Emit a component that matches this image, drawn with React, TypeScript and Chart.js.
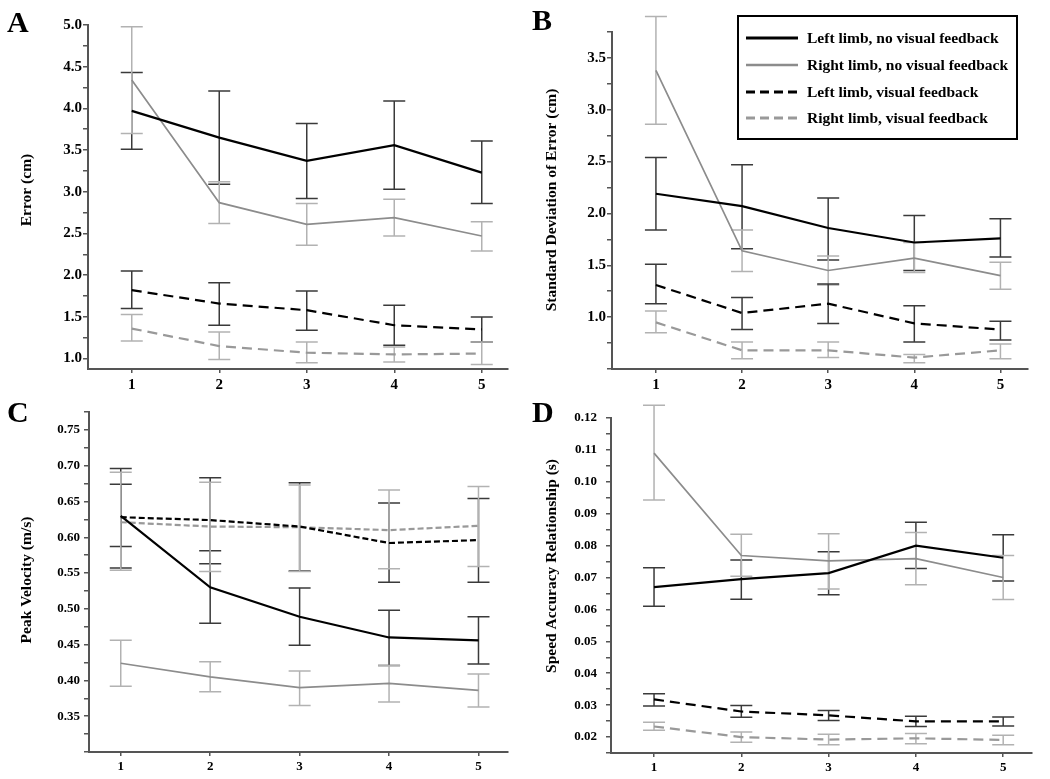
import React, { useEffect, useRef } from "react";
import { Chart, registerables } from "chart.js";

Chart.register(...registerables);

// ---------- data ----------
const sessions = [1, 2, 3, 4, 5];
const seriesNames = [
  "Left limb, no visual feedback",
  "Right limb, no visual feedback",
  "Left limb, visual feedback",
  "Right limb, visual feedback",
];

// A: Error (cm)
const errLeftNoVF = [3.97, 3.65, 3.37, 3.56, 3.23];
const errLeftNoVFLow = [3.51, 3.09, 2.92, 3.03, 2.86];
const errLeftNoVFHigh = [4.43, 4.21, 3.82, 4.09, 3.61];
const errRightNoVF = [4.34, 2.87, 2.61, 2.69, 2.47];
const errRightNoVFLow = [3.7, 2.62, 2.36, 2.47, 2.29];
const errRightNoVFHigh = [4.98, 3.12, 2.86, 2.91, 2.64];
const errLeftVF = [1.82, 1.66, 1.58, 1.4, 1.35];
const errLeftVFLow = [1.6, 1.4, 1.34, 1.16, 1.2];
const errLeftVFHigh = [2.05, 1.91, 1.81, 1.64, 1.5];
const errRightVF = [1.36, 1.15, 1.07, 1.05, 1.06];
const errRightVFLow = [1.21, 0.99, 0.95, 0.96, 0.93];
const errRightVFHigh = [1.53, 1.32, 1.2, 1.14, 1.2];

// B: Standard Deviation of Error (cm)
const sdLeftNoVF = [2.19, 2.07, 1.86, 1.72, 1.76];
const sdLeftNoVFLow = [1.84, 1.66, 1.55, 1.45, 1.58];
const sdLeftNoVFHigh = [2.54, 2.47, 2.15, 1.98, 1.95];
const sdRightNoVF = [3.38, 1.64, 1.45, 1.57, 1.4];
const sdRightNoVFLow = [2.86, 1.44, 1.31, 1.43, 1.27];
const sdRightNoVFHigh = [3.9, 1.84, 1.59, 1.72, 1.53];
const sdLeftVF = [1.31, 1.04, 1.13, 0.94, 0.88];
const sdLeftVFLow = [1.13, 0.88, 0.94, 0.76, 0.78];
const sdLeftVFHigh = [1.51, 1.19, 1.32, 1.11, 0.96];
const sdRightVF = [0.95, 0.68, 0.68, 0.61, 0.68];
const sdRightVFLow = [0.85, 0.6, 0.61, 0.56, 0.6];
const sdRightVFHigh = [1.06, 0.76, 0.76, 0.64, 0.74];

// C: Peak Velocity (m/s)
const pvLeftNoVF = [0.63, 0.53, 0.489, 0.46, 0.456];
const pvLeftNoVFLow = [0.587, 0.48, 0.449, 0.421, 0.423];
const pvLeftNoVFHigh = [0.674, 0.581, 0.529, 0.498, 0.489];
const pvRightNoVF = [0.424, 0.405, 0.39, 0.396, 0.386];
const pvRightNoVFLow = [0.392, 0.384, 0.365, 0.37, 0.363];
const pvRightNoVFHigh = [0.456, 0.426, 0.413, 0.421, 0.409];
const pvLeftVF = [0.628, 0.624, 0.615, 0.592, 0.596];
const pvLeftVFLow = [0.557, 0.563, 0.553, 0.537, 0.537];
const pvLeftVFHigh = [0.696, 0.683, 0.676, 0.648, 0.654];
const pvRightVF = [0.621, 0.615, 0.614, 0.61, 0.616];
const pvRightVFLow = [0.554, 0.552, 0.552, 0.556, 0.559];
const pvRightVFHigh = [0.691, 0.677, 0.673, 0.666, 0.671];

// D: Speed Accuracy Relationship (s)
const saLeftNoVF = [0.067, 0.0695, 0.0714, 0.08, 0.0762];
const saLeftNoVFLow = [0.061, 0.0632, 0.0646, 0.0728, 0.0689];
const saLeftNoVFHigh = [0.0731, 0.0755, 0.0781, 0.0873, 0.0834];
const saRightNoVF = [0.109, 0.0769, 0.0752, 0.0759, 0.07];
const saRightNoVFLow = [0.0943, 0.0704, 0.0664, 0.0677, 0.0631];
const saRightNoVFHigh = [0.124, 0.0836, 0.0837, 0.0841, 0.0769];
const saLeftVF = [0.0318, 0.028, 0.0268, 0.0249, 0.0249];
const saLeftVFLow = [0.0297, 0.0262, 0.0252, 0.0233, 0.0235];
const saLeftVFHigh = [0.0336, 0.0299, 0.0283, 0.0265, 0.0263];
const saRightVF = [0.0233, 0.02, 0.0192, 0.0196, 0.0191];
const saRightVFLow = [0.0221, 0.0184, 0.0176, 0.0179, 0.0176];
const saRightVFHigh = [0.0246, 0.0216, 0.0209, 0.0211, 0.0206];

// ---------- styles ----------
const FONT = '"Liberation Serif", "Times New Roman", serif';
const seriesStyles = [
  { color: "#000000", err: "#3a3a3a", width: 2.2, dashed: false },
  { color: "#8c8c8c", err: "#b2b2b2", width: 1.7, dashed: false },
  { color: "#000000", err: "#3a3a3a", width: 2.2, dashed: true },
  { color: "#999999", err: "#b2b2b2", width: 2.2, dashed: true },
];

type Panel = {
  letter: string;
  box: { x: number; y: number; w: number; h: number };
  plot: { l: number; t: number; r: number; b: number };
  xMin: number;
  xMax: number;
  yMin: number;
  yMax: number;
  yStep: number;
  yMajor: number;
  yLabelMin: number;
  decimals: number;
  tickSize: number;
  yTickPad: number;
  title: string;
  titleX: number;
  titleY: number;
  titleSize: number;
  dash: number[];
  letterX: number;
  letterY: number;
  legend: boolean;
  series: { mean: number[]; low: number[]; high: number[] }[];
};

const panels: Panel[] = [
  {
    letter: "A",
    box: { x: 0, y: 0, w: 525, h: 392 },
    plot: { l: 88, t: 25, r: 508, b: 369 },
    xMin: 0.5, xMax: 5.3,
    yMin: 0.875, yMax: 5.0, yStep: 0.25, yMajor: 0.5, yLabelMin: 1.0, decimals: 1,
    tickSize: 15, yTickPad: 1,
    title: "Error (cm)", titleX: 27, titleY: 190, titleSize: 15.5,
    dash: [10, 6],
    letterX: 7, letterY: 32, legend: false,
    series: [
      { mean: errLeftNoVF, low: errLeftNoVFLow, high: errLeftNoVFHigh },
      { mean: errRightNoVF, low: errRightNoVFLow, high: errRightNoVFHigh },
      { mean: errLeftVF, low: errLeftVFLow, high: errLeftVFHigh },
      { mean: errRightVF, low: errRightVFLow, high: errRightVFHigh },
    ],
  },
  {
    letter: "B",
    box: { x: 525, y: 0, w: 525, h: 392 },
    plot: { l: 612, t: 32, r: 1028, b: 369 },
    xMin: 0.49, xMax: 5.32,
    yMin: 0.5, yMax: 3.75, yStep: 0.25, yMajor: 0.5, yLabelMin: 1.0, decimals: 1,
    tickSize: 15, yTickPad: 1,
    title: "Standard Deviation of Error (cm)", titleX: 552, titleY: 200, titleSize: 15.5,
    dash: [10, 6],
    letterX: 532, letterY: 30, legend: true,
    series: [
      { mean: sdLeftNoVF, low: sdLeftNoVFLow, high: sdLeftNoVFHigh },
      { mean: sdRightNoVF, low: sdRightNoVFLow, high: sdRightNoVFHigh },
      { mean: sdLeftVF, low: sdLeftVFLow, high: sdLeftVFHigh },
      { mean: sdRightVF, low: sdRightVFLow, high: sdRightVFHigh },
    ],
  },
  {
    letter: "C",
    box: { x: 0, y: 392, w: 525, h: 387 },
    plot: { l: 89, t: 412, r: 508, b: 752 },
    xMin: 0.645, xMax: 5.33,
    yMin: 0.3, yMax: 0.775, yStep: 0.025, yMajor: 0.05, yLabelMin: 0.35, decimals: 2,
    tickSize: 13, yTickPad: 4,
    title: "Peak Velocity (m/s)", titleX: 27, titleY: 580, titleSize: 15.5,
    dash: [6, 3],
    letterX: 7, letterY: 422, legend: false,
    series: [
      { mean: pvLeftNoVF, low: pvLeftNoVFLow, high: pvLeftNoVFHigh },
      { mean: pvRightNoVF, low: pvRightNoVFLow, high: pvRightNoVFHigh },
      { mean: pvLeftVF, low: pvLeftVFLow, high: pvLeftVFHigh },
      { mean: pvRightVF, low: pvRightVFLow, high: pvRightVFHigh },
    ],
  },
  {
    letter: "D",
    box: { x: 525, y: 392, w: 525, h: 387 },
    plot: { l: 611, t: 418, r: 1032, b: 753 },
    xMin: 0.507, xMax: 5.33,
    yMin: 0.015, yMax: 0.12, yStep: 0.005, yMajor: 0.01, yLabelMin: 0.02, decimals: 2,
    tickSize: 13, yTickPad: 9,
    title: "Speed Accuracy Relationship (s)", titleX: 552, titleY: 566, titleSize: 15.5,
    dash: [10, 6],
    letterX: 532, letterY: 422, legend: false,
    series: [
      { mean: saLeftNoVF, low: saLeftNoVFLow, high: saLeftNoVFHigh },
      { mean: saRightNoVF, low: saRightNoVFLow, high: saRightNoVFHigh },
      { mean: saLeftVF, low: saLeftVFLow, high: saLeftVFHigh },
      { mean: saRightVF, low: saRightVFLow, high: saRightVFHigh },
    ],
  },
];

// ---------- plugins ----------
const errorBarPlugin = {
  id: "errorBars",
  beforeDatasetsDraw(chart: any) {
    const { ctx } = chart;
    const xs = chart.scales.x;
    const ys = chart.scales.y;
    chart.data.datasets.forEach((ds: any) => {
      ctx.save();
      ctx.strokeStyle = ds.errColor;
      ctx.lineWidth = 1.5;
      ctx.setLineDash([]);
      ds.data.forEach((p: any, i: number) => {
        const x = xs.getPixelForValue(p.x);
        const y1 = ys.getPixelForValue(ds.errLow[i]);
        const y2 = ys.getPixelForValue(ds.errHigh[i]);
        ctx.beginPath();
        ctx.moveTo(x, y1);
        ctx.lineTo(x, y2);
        ctx.moveTo(x - 11, y1);
        ctx.lineTo(x + 11, y1);
        ctx.moveTo(x - 11, y2);
        ctx.lineTo(x + 11, y2);
        ctx.stroke();
      });
      ctx.restore();
    });
  },
};

const decorPlugin = {
  id: "decor",
  afterDraw(chart: any, _args: any, opts: any) {
    const p: Panel = opts.panel;
    if (!p) return;
    const { ctx } = chart;
    ctx.save();
    ctx.translate(-p.box.x, -p.box.y);
    // panel letter
    ctx.fillStyle = "#000";
    ctx.font = `bold 30px ${FONT}`;
    ctx.textAlign = "left";
    ctx.textBaseline = "alphabetic";
    ctx.fillText(p.letter, p.letterX, p.letterY);
    // y-axis title
    ctx.save();
    ctx.translate(p.titleX, p.titleY);
    ctx.rotate(-Math.PI / 2);
    ctx.font = `bold ${p.titleSize}px ${FONT}`;
    ctx.textAlign = "center";
    ctx.textBaseline = "middle";
    ctx.fillText(p.title, 0, 0);
    ctx.restore();
    // legend
    if (p.legend) {
      const bx = 738, by = 16, bw = 279, bh = 123;
      ctx.lineWidth = 2;
      ctx.strokeStyle = "#000";
      ctx.setLineDash([]);
      ctx.strokeRect(bx, by, bw, bh);
      const rows = [38, 65, 92, 118];
      seriesNames.forEach((name, i) => {
        const st = seriesStyles[i];
        ctx.beginPath();
        ctx.strokeStyle = st.color;
        ctx.lineWidth = i === 1 ? 2.5 : 3;
        ctx.setLineDash(st.dashed ? [9, 5] : []);
        ctx.moveTo(746, rows[i]);
        ctx.lineTo(798, rows[i]);
        ctx.stroke();
        ctx.setLineDash([]);
        ctx.fillStyle = "#000";
        ctx.font = `bold 15.5px ${FONT}`;
        ctx.textAlign = "left";
        ctx.textBaseline = "middle";
        ctx.fillText(name, 807, rows[i] + 1);
      });
    }
    ctx.restore();
  },
};

function buildYTicks(p: Panel) {
  const out: { value: number }[] = [];
  const k0 = Math.ceil(p.yMin / p.yStep - 1e-6);
  const k1 = Math.floor(p.yMax / p.yStep + 1e-6);
  for (let k = k0; k <= k1; k++) {
    out.push({ value: Math.round(k * p.yStep * 1e6) / 1e6 });
  }
  return out;
}

function makeConfig(p: Panel): any {
  const tickFont = { family: FONT, weight: "bold" as const, size: p.tickSize };
  return {
    type: "line",
    data: {
      datasets: p.series.map((s, i) => {
        const st = seriesStyles[i];
        return {
          label: seriesNames[i],
          data: sessions.map((x, j) => ({ x, y: s.mean[j] })),
          borderColor: st.color,
          borderWidth: st.width,
          borderDash: st.dashed ? p.dash : [],
          pointRadius: 0,
          fill: false,
          tension: 0,
          errLow: s.low,
          errHigh: s.high,
          errColor: st.err,
        };
      }),
    },
    options: {
      responsive: false,
      animation: false,
      events: [],
      layout: {
        padding: {
          left: 0,
          top: p.plot.t - p.box.y,
          right: p.box.x + p.box.w - p.plot.r,
          bottom: 0,
        },
      },
      plugins: {
        legend: { display: false },
        tooltip: { enabled: false },
        decor: { panel: p },
      },
      scales: {
        x: {
          type: "linear",
          min: p.xMin,
          max: p.xMax,
          afterBuildTicks: (scale: any) => {
            scale.ticks = sessions.map((v) => ({ value: v }));
          },
          afterFit: (scale: any) => {
            scale.height = p.box.y + p.box.h - p.plot.b;
          },
          grid: { drawOnChartArea: false, drawTicks: true, tickLength: 4, color: "#555", lineWidth: 1.5 },
          border: { display: true, color: "#555", width: 2 },
          ticks: {
            font: tickFont,
            color: "#000",
            padding: 3,
            autoSkip: false,
            maxRotation: 0,
            callback: (v: any) => String(v),
          },
        },
        y: {
          type: "linear",
          min: p.yMin,
          max: p.yMax,
          afterBuildTicks: (scale: any) => {
            scale.ticks = buildYTicks(p);
          },
          afterFit: (scale: any) => {
            scale.width = p.plot.l - p.box.x;
          },
          grid: { drawOnChartArea: false, drawTicks: true, tickLength: 5, color: "#555", lineWidth: 1.5 },
          border: { display: true, color: "#555", width: 2 },
          ticks: {
            font: tickFont,
            color: "#000",
            padding: p.yTickPad,
            autoSkip: false,
            callback: (v: any) => {
              const val = Number(v);
              const r = val / p.yMajor;
              if (Math.abs(r - Math.round(r)) > 1e-6) return "";
              if (val < p.yLabelMin - 1e-9) return "";
              return val.toFixed(p.decimals);
            },
          },
        },
      },
    },
    plugins: [errorBarPlugin, decorPlugin],
  };
}

function PanelChart({ p }: { p: Panel }) {
  const ref = useRef<HTMLCanvasElement | null>(null);
  useEffect(() => {
    if (!ref.current) return;
    const chart = new Chart(ref.current, makeConfig(p));
    return () => chart.destroy();
  }, [p]);
  return (
    <canvas
      ref={ref}
      width={p.box.w}
      height={p.box.h}
      style={{
        position: "absolute",
        left: p.box.x,
        top: p.box.y,
        width: p.box.w,
        height: p.box.h,
      }}
    />
  );
}

export default function App() {
  useEffect(() => {
    document.body.style.margin = "0";
    document.body.style.background = "#fff";
  }, []);
  return (
    <div style={{ position: "relative", width: 1050, height: 779, background: "#fff", overflow: "hidden" }}>
      {panels.map((p) => (
        <PanelChart key={p.letter} p={p} />
      ))}
    </div>
  );
}
